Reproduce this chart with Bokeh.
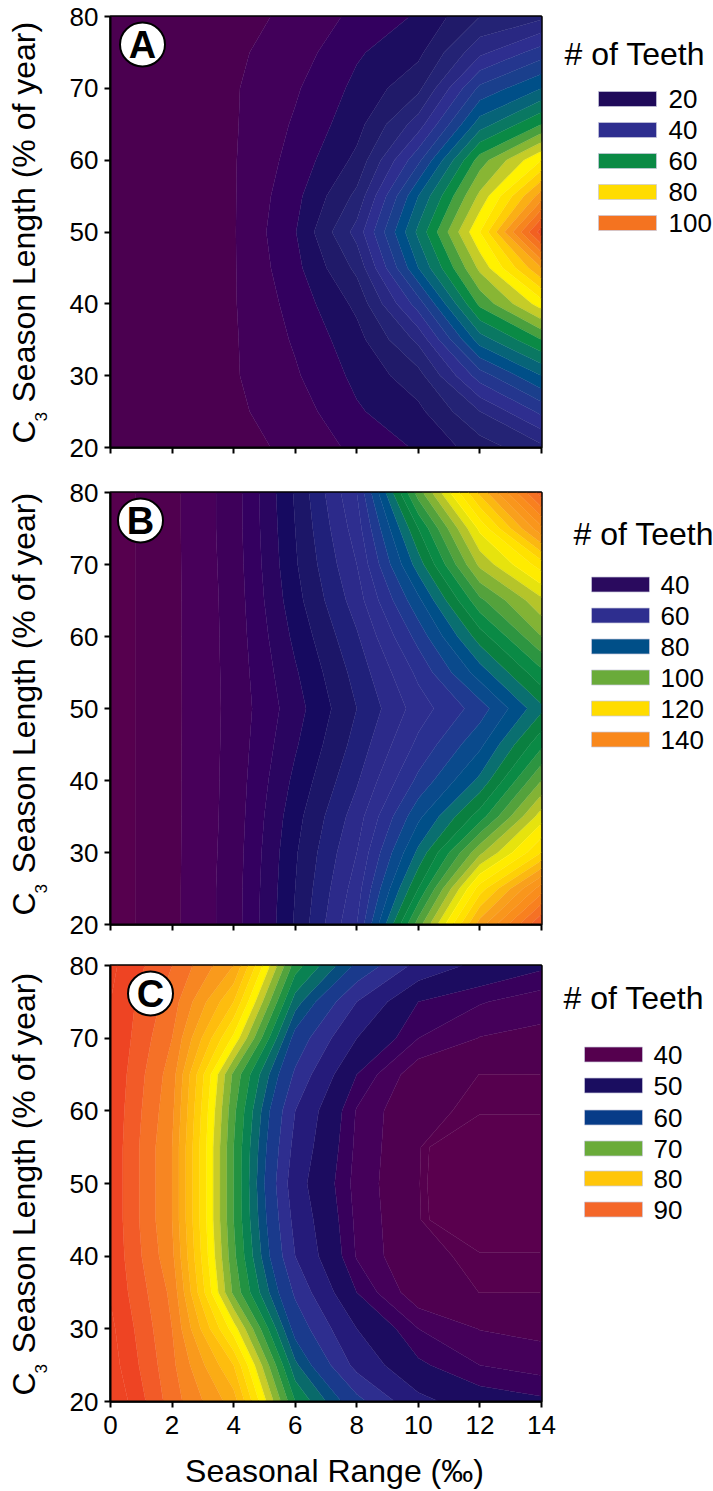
import math
import numpy as np
from bokeh.embed import file_html
from bokeh.resources import INLINE
from bokeh.layouts import column, row
from bokeh.models import Range1d, FixedTicker
from bokeh.plotting import figure
from bokeh.core.properties import value

X_VALUES = [0, 2, 4, 6, 8, 10, 12, 14]
Y_VALUES = [20, 25, 30, 35, 40, 45, 50, 55, 60, 65, 70, 75, 80]
X_TICKS = [0, 2, 4, 6, 8, 10, 12, 14]
Y_TICKS = [20, 30, 40, 50, 60, 70, 80]
TITLE = "# of Teeth"
X_LABEL = "Seasonal Range (‰)"
Y_LABEL = "Season Length (% of year)"

TEETH_A = [
    [6.5, 7, 8.5, 11, 15, 18.5, 24, 29],
    [6.5, 7, 9.3, 12, 17.5, 21, 30, 39],
    [6.5, 7, 9.6, 13.5, 19, 24.5, 40, 50],
    [6.5, 7, 9.6, 14.5, 20.5, 31, 52, 62],
    [6.5, 7, 9.7, 15.5, 23, 40, 63, 76],
    [6.5, 7, 9.7, 16.8, 27, 50, 71, 90],
    [6.5, 7, 9.7, 17.8, 31.5, 55, 78, 108],
    [6.5, 7, 9.7, 16.8, 27, 50, 71, 92],
    [6.5, 7, 9.7, 15.5, 23, 41, 64, 78],
    [6.5, 7, 9.6, 14.5, 20.5, 32, 52, 62],
    [6.5, 7, 9.6, 13.5, 19, 25, 43, 50],
    [6.5, 7, 9.3, 12, 17.5, 21, 33, 40],
    [6.5, 7, 8.5, 11, 15, 18.5, 26, 29],
]
TEETH_B = [
    [22, 27, 34, 48.5, 64, 98, 130, 152],
    [22, 27, 34, 48, 62, 88, 118, 138],
    [22, 27, 33.8, 47.5, 60, 81, 103, 120],
    [22, 27, 33.6, 46.5, 58, 75, 90, 110],
    [22, 27, 33.5, 45, 55.5, 69, 81, 100],
    [22, 27, 33.4, 43.5, 53.5, 65, 75, 91],
    [22, 27, 33.3, 42.3, 52, 62, 70, 83],
    [22, 27, 33.4, 43.5, 53.5, 65, 78, 91],
    [22, 27, 33.5, 45, 55.5, 69.5, 86, 100],
    [22, 27, 33.6, 46.5, 58, 75, 95, 107],
    [22, 27, 33.8, 47.5, 60, 82, 105, 118],
    [22, 27, 34, 48, 62, 88, 113, 135],
    [22, 27, 34, 48.5, 64, 98, 125, 150],
]
TEETH_C = [
    [96, 89, 83, 66, 58, 51.5, 48.5, 47.5],
    [95, 88.5, 80, 62.5, 53, 47.5, 45, 44],
    [94.5, 88, 75, 59, 50.5, 45, 42.6, 42],
    [93.8, 87.5, 69.5, 56.5, 47, 41, 39.98, 39.98],
    [93.6, 86.5, 68.5, 54, 44.8, 40.05, 39.96, 39.96],
    [93.5, 86, 68, 53, 44.5, 40.03, 39.3, 39.3],
    [93.5, 86, 68, 52, 44.2, 40.02, 39.2, 39.2],
    [93.5, 86, 68, 53, 44.5, 40.03, 39.3, 39.3],
    [93.6, 86.5, 68.5, 54, 44.8, 40.05, 39.96, 39.96],
    [93.8, 87, 69.5, 56.5, 47, 41, 39.98, 39.98],
    [94, 88, 75.5, 59, 50.5, 45, 42.6, 42],
    [94, 89, 80, 63, 54, 47, 45.2, 43.8],
    [94.5, 90, 84, 67, 59.5, 53, 49.5, 47.5],
]

LEVELS_A = [2, 10, 14, 18, 22, 26, 30, 34, 38, 42, 46, 50, 54, 58, 62, 66, 70, 74, 78, 82, 86,
            90, 94, 98, 102, 106, 110, 114]
LEVELS_B = [20, 24, 28, 32, 36, 40, 44, 48, 52, 56, 60, 64, 68, 72, 76, 80, 84, 88, 92, 96, 100,
            104, 108, 112, 116, 120, 124, 128, 132, 136, 140, 144, 148, 152, 156, 160]
LEVELS_C = [36, 39.9, 40, 42.7, 45, 47, 50.5, 54, 57, 60, 62, 64, 66, 68, 70, 72, 74, 76, 78, 80,
            82, 84, 86, 88, 90, 92, 94, 96, 98]

LEGEND_A = [20, 40, 60, 80, 100]
LEGEND_B = [40, 60, 80, 100, 120, 140]
LEGEND_C = [40, 50, 60, 70, 80, 90]
LEGEND_COLORS_A = ["#1f0a5a", "#2e2e8f", "#0a8a45", "#ffdc00", "#f47320"]
LEGEND_COLORS_B = ["#2a0a5e", "#2e2e8f", "#004f88", "#6aab3a", "#ffdc00", "#f9881c"]
LEGEND_COLORS_C = ["#55004e", "#1a0d60", "#073c88", "#6aab3a", "#ffc60a", "#f4672a"]

RAMP_A = [(6, "#4b0050"), (12, "#42005a"), (16, "#33005f"), (20, "#1c0d60"), (26, "#22206e"),
          (36, "#2e2e8f"), (44, "#1a3f8c"), (48, "#004f88"), (54, "#0a6f70"), (60, "#0a8a45"),
          (66, "#6aab3a"), (72, "#c5cc28"), (76, "#fff200"), (82, "#ffdc00"),
          (90, "#f9a01c"), (100, "#f47320"), (110, "#ee4423")]
RAMP_B = [(22, "#56004e"), (26, "#50004f"), (30, "#48005a"), (34, "#3e005a"), (38, "#340060"),
          (42, "#2a0560"), (46, "#160a60"), (50, "#1c1668"), (54, "#20207a"), (58, "#2c2a8a"),
          (62, "#2e2e8f"), (66, "#2a3090"), (70, "#1f3a90"), (74, "#0a4a8c"), (78, "#004f88"),
          (82, "#0a6f70"), (86, "#0a8040"), (90, "#0a8a45"), (96, "#3f9a3f"),
          (100, "#6aab3a"), (106, "#b5c42a"), (112, "#fff200"), (120, "#ffdc00"), (130, "#f9a01c"),
          (140, "#f9881c"), (150, "#f2622a"), (155, "#ee4423")]
RAMP_C = [(38, "#5a004e"), (39.95, "#56004e"), (41.3, "#4f0050"), (43.8, "#45005a"), (46, "#38005c"),
          (48.7, "#1c0c60"), (52, "#241a78"), (55.5, "#2e2e8f"), (58.5, "#1a3a8c"), (60, "#073c88"),
          (64, "#0a7a60"), (66, "#0a8a45"), (70, "#6aab3a"), (73, "#c9cc28"), (75, "#fff200"),
          (80, "#ffc60a"), (85, "#f99a1c"), (90, "#f4672a"), (93, "#ee4423")]

FONT = "Liberation Sans"
LEFT_W = 52
FRAME_L, FRAME_R = 110, 541
SPLIT = 560
PAGE_R = 713


def ramp_color(ramp, v):
    vs = [a for a, _ in ramp]
    rgb = np.array([[int(c[i:i + 2], 16) for i in (1, 3, 5)] for _, c in ramp], float)
    vals = [np.interp(v, vs, rgb[:, k]) for k in range(3)]
    return "#%02x%02x%02x" % tuple(int(round(t)) for t in vals)


def bare(width, top, frame_t, frame_b, bottom, x_range):
    # Frames of neighbours in a row are aligned, so the y range spans the frame, in page pixels.
    p = figure(width=width, height=bottom - top, output_backend="svg", toolbar_location=None,
               x_range=x_range, y_range=Range1d(frame_b, frame_t), min_border_left=0,
               min_border_right=0, min_border_top=frame_t - top, min_border_bottom=bottom - frame_b,
               background_fill_color="white", border_fill_color="white")
    p.axis.visible = False
    p.grid.visible = False
    p.outline_line_color = None
    return p


def side(top, frame_t, frame_b, bottom, label_y, c_y, sub_y):
    p = bare(LEFT_W, top, frame_t, frame_b, bottom, Range1d(0, LEFT_W))
    common = dict(angle=math.pi / 2, text_font=value(FONT), text_color="black",
                  text_baseline="middle", text_align="left")
    p.text(x=[23], y=[c_y], text=["C"], text_font_size="32px", **common)
    p.text(x=[40], y=[sub_y], text=["3"], text_font_size="17px", **common)
    p.text(x=[23], y=[label_y], text=[Y_LABEL], text_font_size="32px", **common)
    return p


def panel(z, ramp, levels, top, frame_t, frame_b, bottom, letter, letter_x, show_x):
    p = figure(width=SPLIT - LEFT_W, height=bottom - top, output_backend="svg", toolbar_location=None,
               x_range=Range1d(0, 14), y_range=Range1d(20, 80),
               min_border_left=FRAME_L - LEFT_W, min_border_right=SPLIT - FRAME_R,
               min_border_top=frame_t - top, min_border_bottom=bottom - frame_b,
               background_fill_color="white", border_fill_color="white")
    p.grid.visible = False
    p.outline_line_color = "black"
    p.outline_line_width = 2.5
    for ax in (p.xaxis[0], p.yaxis[0]):
        ax.axis_line_color = "black"
        ax.axis_line_width = 2
        ax.major_tick_line_color = "black"
        ax.major_tick_line_width = 2
        ax.major_tick_in = 0
        ax.major_tick_out = 6
        ax.minor_tick_line_color = None
        ax.major_label_text_font = FONT
        ax.major_label_text_font_size = "26px"
        ax.major_label_text_color = "black"
    p.xaxis[0].ticker = FixedTicker(ticks=X_TICKS)
    p.yaxis[0].ticker = FixedTicker(ticks=Y_TICKS)
    p.yaxis[0].major_label_orientation = "horizontal"
    p.yaxis[0].major_label_standoff = 6
    p.xaxis[0].major_label_standoff = 8
    if not show_x:
        p.xaxis[0].major_label_overrides = {t: "" for t in X_TICKS}

    arr = np.array(z, float)
    mids = [(a + b) / 2 for a, b in zip(levels[:-1], levels[1:])]
    fills = [ramp_color(ramp, m) for m in mids]
    lines = [ramp_color(ramp, l) for l in levels]
    p.contour(X_VALUES, Y_VALUES, arr, levels, fill_color=fills, line_color=lines, line_width=0.6)

    px_x = 14 / (FRAME_R - FRAME_L)
    px_y = 60 / (frame_b - frame_t)
    cx = (letter_x - FRAME_L) * px_x
    cy = 80 - 28 * px_y
    p.ellipse(x=[cx], y=[cy], width=[45 * px_x], height=[44 * px_y],
              fill_color="white", line_color="black", line_width=2)
    p.text(x=[cx], y=[cy], text=[letter], text_font=value(FONT), text_font_style="bold",
           text_font_size="38px", text_align="center", text_baseline="middle", text_color="black")
    return p


def legend(labels, colors, top, frame_t, frame_b, bottom, title_x, title_y, sw_l, sw_r, rows_y, num_x):
    p = bare(PAGE_R - SPLIT, top, frame_t, frame_b, bottom, Range1d(SPLIT, PAGE_R))
    p.text(x=[title_x], y=[title_y], text=[TITLE], text_font=value(FONT), text_font_size="32px",
           text_align="left", text_baseline="middle", text_color="black")
    p.quad(left=[sw_l] * len(labels), right=[sw_r] * len(labels),
           top=[r - 7.5 for r in rows_y], bottom=[r + 7.5 for r in rows_y],
           fill_color=colors, line_color="#c8c8dc", line_width=0.7)
    p.text(x=[num_x] * len(labels), y=rows_y, text=[str(v) for v in labels], text_font=value(FONT),
           text_font_size="26px", text_align="left", text_baseline="middle", text_color="black")
    return p


sa = side(0, 16, 447, 472, 402, 443, 421)
a = panel(TEETH_A, RAMP_A, LEVELS_A, 0, 16, 447, 472, "A", 142, False)
la = legend(LEGEND_A, LEGEND_COLORS_A, 0, 16, 447, 472, 564, 53, 598, 656,
            [98.5, 129.5, 160.5, 191.5, 222.5], 668)
sb = side(472, 492, 924, 950, 873, 915, 893)
b = panel(TEETH_B, RAMP_B, LEVELS_B, 472, 492, 924, 950, "B", 140, False)
lb = legend(LEGEND_B, LEGEND_COLORS_B, 472, 492, 924, 950, 573, 533, 591, 649,
            [584, 615, 646, 677, 708, 739], 660)
sc = side(950, 965, 1401, 1445, 1353, 1395, 1373)
c = panel(TEETH_C, RAMP_C, LEVELS_C, 950, 965, 1401, 1445, "C", 150, True)
lc = legend(LEGEND_C, LEGEND_COLORS_C, 950, 965, 1401, 1445, 563, 997, 584, 642,
            [1054, 1085, 1117, 1148, 1178, 1209], 653)

foot = figure(width=PAGE_R, height=45, output_backend="svg", toolbar_location=None,
              x_range=Range1d(0, PAGE_R), y_range=Range1d(1490, 1445), min_border=0,
              background_fill_color="white", border_fill_color="white")
foot.axis.visible = False
foot.grid.visible = False
foot.outline_line_color = None
foot.text(x=[334], y=[1470], text=[X_LABEL], text_font=value(FONT), text_font_size="32px",
          text_align="center", text_baseline="middle", text_color="black")

layout = column(row(sa, a, la, spacing=0), row(sb, b, lb, spacing=0), row(sc, c, lc, spacing=0),
                foot, spacing=0)
open("out.html", "w").write(file_html(layout, INLINE))
